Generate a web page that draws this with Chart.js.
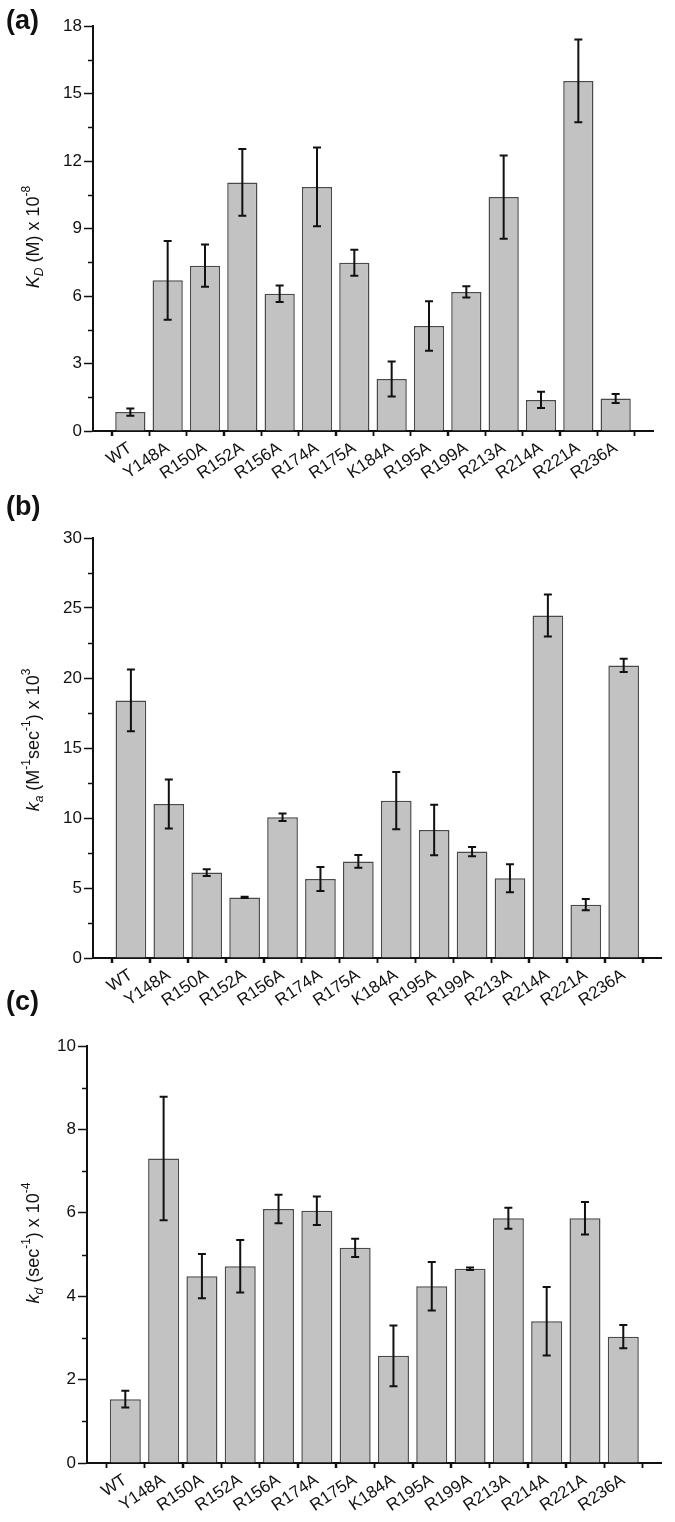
<!DOCTYPE html>
<html>
<head>
<meta charset="utf-8">
<script src="https://cdn.jsdelivr.net/npm/chart.js@4.4.1/dist/chart.umd.min.js"></script>
<style>
  html, body { margin: 0; padding: 0; background: #fff; }
  body { width: 675px; height: 1522px; position: relative; overflow: hidden; }
  .panel { position: absolute; left: 0; }
  .plabel { position: absolute; font: bold 27px "Liberation Sans", Arial, sans-serif; color: #111; z-index: 5; }
</style>
</head>
<body>
<div class="panel" style="top:0px;"><canvas id="ca" width="675" height="500"></canvas></div>
<div class="panel" style="top:490px;"><canvas id="cb" width="675" height="545"></canvas></div>
<div class="panel" style="top:990px;"><canvas id="cc" width="675" height="532"></canvas></div>
<div class="plabel" style="left:6px; top:5px;">(a)</div>
<div class="plabel" style="left:6px; top:491px;">(b)</div>
<div class="plabel" style="left:6px; top:986px;">(c)</div>
<script>
// ---- data ----
const categories = ['WT','Y148A','R150A','R152A','R156A','R174A','R175A','K184A','R195A','R199A','R213A','R214A','R221A','R236A'];
const kD    = [0.84, 6.70, 7.35, 11.05, 6.10, 10.85, 7.48, 2.31, 4.67, 6.18, 10.40, 1.38, 15.56, 1.45];
const kDErr = [0.16, 1.75, 0.94, 1.48, 0.37, 1.75, 0.58, 0.78, 1.10, 0.25, 1.85, 0.36, 1.84, 0.20];
const ka    = [18.4, 11.0, 6.1, 4.33, 10.05, 5.64, 6.9, 11.24, 9.14, 7.6, 5.69, 24.47, 3.81, 20.9];
const kaErr = [2.2, 1.75, 0.24, 0.05, 0.27, 0.86, 0.45, 2.05, 1.8, 0.33, 1.0, 1.5, 0.4, 0.47];
const kd    = [1.53, 7.30, 4.48, 4.72, 6.09, 6.05, 5.16, 2.57, 4.24, 4.66, 5.87, 3.40, 5.87, 3.03];
const kdErr = [0.2, 1.48, 0.53, 0.63, 0.34, 0.34, 0.22, 0.73, 0.58, 0.03, 0.25, 0.82, 0.39, 0.28];
const yTicksA = {max: 18, step: 3, minor: 1.5};
const yTicksB = {max: 30, step: 5, minor: 2.5};
const yTicksC = {max: 10, step: 2, minor: 1};

const FONT = '"Liberation Sans", Arial, sans-serif';

const errorBarPlugin = {
  id: 'errbars',
  afterDatasetsDraw(chart, args, opts) {
    const {ctx, scales: {x, y}} = chart;
    const vals = opts.values, errs = opts.errors;
    ctx.save();
    ctx.strokeStyle = '#111';
    ctx.lineWidth = 2;
    vals.forEach((v, i) => {
      const px = x.getPixelForValue(i + 1);
      const yt = y.getPixelForValue(v + errs[i]);
      const yb = y.getPixelForValue(v - errs[i]);
      ctx.beginPath();
      ctx.moveTo(px, yt); ctx.lineTo(px, yb);
      ctx.moveTo(px - 4, yt); ctx.lineTo(px + 4, yt);
      ctx.moveTo(px - 4, yb); ctx.lineTo(px + 4, yb);
      ctx.stroke();
    });
    ctx.restore();
  }
};

const minorTickPlugin = {
  id: 'minorticks',
  afterDraw(chart, args, opts) {
    const {ctx, scales: {x, y}, chartArea} = chart;
    ctx.save();
    ctx.strokeStyle = '#111';
    ctx.lineWidth = 1.5;
    for (let v = opts.minor; v < opts.max; v += opts.step) {
      const py = Math.round(y.getPixelForValue(v)) + 0.5;
      ctx.beginPath();
      ctx.moveTo(chartArea.left - 5, py); ctx.lineTo(chartArea.left, py);
      ctx.stroke();
    }
    for (let v = 0.5; v < x.max; v += 1) {
      const px = Math.round(x.getPixelForValue(v)) + 0.5;
      ctx.beginPath();
      ctx.moveTo(px, chartArea.bottom); ctx.lineTo(px, chartArea.bottom + 5);
      ctx.stroke();
    }
    ctx.restore();
  }
};

const yTitlePlugin = {
  id: 'ytitle',
  afterDraw(chart, args, opts) {
    const ctx = chart.ctx;
    const segs = opts.segments;
    const big = 18, small = 12;
    ctx.save();
    const fontFor = s => `${s.italic ? 'italic ' : ''}${(s.sub || s.sup) ? small : big}px ${FONT}`;
    let total = 0;
    segs.forEach(s => { ctx.font = fontFor(s); s.w = ctx.measureText(s.t).width; total += s.w; });
    ctx.translate(opts.cx, opts.cy);
    ctx.rotate(-Math.PI / 2);
    ctx.fillStyle = '#111';
    ctx.textBaseline = 'alphabetic';
    let xo = -total / 2;
    segs.forEach(s => {
      ctx.font = fontFor(s);
      let yo = 6;
      if (s.sub) yo = 10;
      if (s.sup) yo = -3;
      ctx.fillText(s.t, xo, yo);
      xo += s.w;
    });
    ctx.restore();
  }
};

function makeChart(id, vals, errs, yt, cfg) {
  const data = vals.map((v, i) => ({x: i + 1, y: v}));
  return new Chart(document.getElementById(id), {
    type: 'bar',
    data: { datasets: [{
      data: data,
      backgroundColor: '#c2c2c2',
      borderColor: '#4a4a4a',
      borderWidth: 1.5,
      barPercentage: 0.81,
      categoryPercentage: 1.0
    }]},
    options: {
      responsive: false,
      animation: false,
      devicePixelRatio: 1,
      layout: { padding: cfg.padding },
      plugins: {
        legend: { display: false },
        tooltip: { enabled: false },
        errbars: { values: vals, errors: errs },
        minorticks: { minor: yt.minor, step: yt.step, max: yt.max },
        ytitle: cfg.title
      },
      scales: {
        x: {
          type: 'linear',
          min: 0, max: 15,
          offset: false,
          afterFit: s => { s.height = cfg.xHeight; },
          grid: { display: true, drawOnChartArea: false, drawTicks: true, tickLength: 5, tickColor: '#111', tickWidth: 1.5 },
          border: { display: true, color: '#111', width: 2 },
          ticks: {
            stepSize: 1,
            autoSkip: false,
            minRotation: 34, maxRotation: 34,
            padding: 2,
            color: '#111',
            font: { family: FONT, size: 17 },
            callback: v => (Number.isInteger(v) && v >= 1 && v <= categories.length) ? categories[v - 1] : ''
          }
        },
        y: {
          min: 0, max: yt.max,
          afterFit: s => { s.width = cfg.yWidth; },
          grid: { display: true, drawOnChartArea: false, drawTicks: true, tickLength: 9, tickColor: '#111', tickWidth: 1.5 },
          border: { display: true, color: '#111', width: 2 },
          ticks: {
            stepSize: yt.step,
            padding: 2,
            color: '#111',
            font: { family: FONT, size: 17 }
          }
        }
      }
    },
    plugins: [errorBarPlugin, minorTickPlugin, yTitlePlugin]
  });
}

makeChart('ca', kD, kDErr, yTicksA, {
  padding: { left: 0, right: 22, top: 26, bottom: 0 },
  xHeight: 69, yWidth: 93,
  title: { cx: 33, cy: 237, segments: [
    {t: 'K', italic: true}, {t: 'D', italic: true, sub: true}, {t: ' (M) x 10'}, {t: '-8', sup: true}
  ]}
});
makeChart('cb', ka, kaErr, yTicksB, {
  padding: { left: 0, right: 4, top: 48, bottom: 0 },
  xHeight: 77, yWidth: 93,
  title: { cx: 33, cy: 250, segments: [
    {t: 'k', italic: true}, {t: 'a', italic: true, sub: true}, {t: ' (M'}, {t: '-1', sup: true},
    {t: 'sec'}, {t: '-1', sup: true}, {t: ') x 10'}, {t: '3', sup: true}
  ]}
});
makeChart('cc', kd, kdErr, yTicksC, {
  padding: { left: 0, right: 13, top: 56, bottom: 0 },
  xHeight: 59, yWidth: 87,
  title: { cx: 33, cy: 253, segments: [
    {t: 'k', italic: true}, {t: 'd', italic: true, sub: true}, {t: ' (sec'}, {t: '-1', sup: true},
    {t: ') x 10'}, {t: '-4', sup: true}
  ]}
});
</script>
</body>
</html>
